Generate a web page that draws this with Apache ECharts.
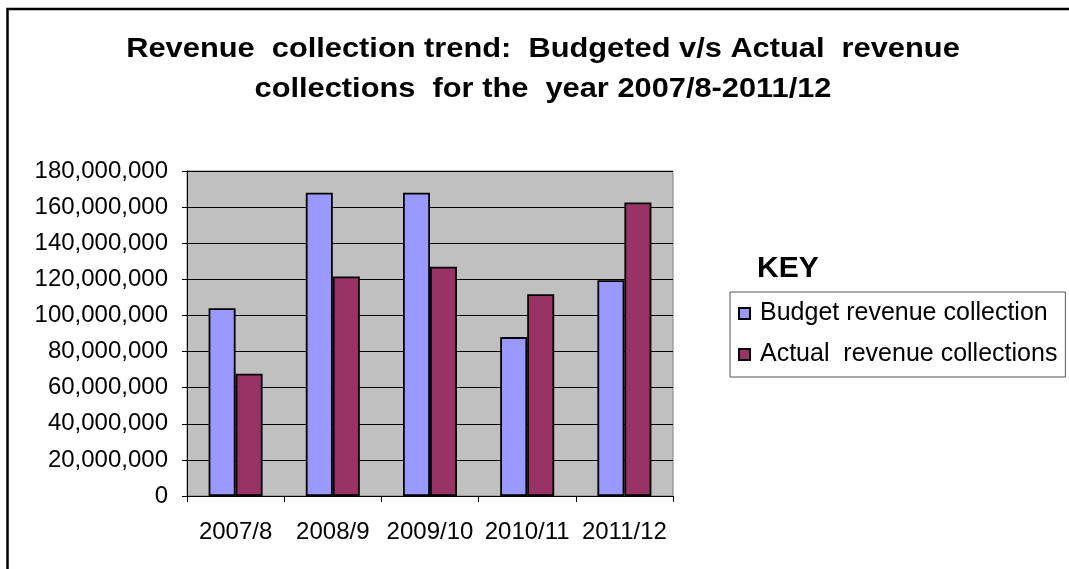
<!DOCTYPE html>
<html>
<head>
<meta charset="utf-8">
<script src="https://cdn.jsdelivr.net/npm/echarts@6/dist/echarts.min.js"></script>
<style>
  html, body { margin: 0; padding: 0; background: #fff; }
  #chart { width: 1069px; height: 569px; }
</style>
</head>
<body>
<div id="chart"></div>
<script>
// Financial years on the category axis
const years = ['2007/8', '2008/9', '2009/10', '2010/11', '2011/12'];
// Budgeted revenue per year
const budgetRevenue = [104000000, 168000000, 168000000, 88000000, 119500000];
// Revenue actually collected per year
const actualRevenue = [67700000, 121600000, 127000000, 111800000, 162600000];
// Value axis range
const yMin = 0;
const yMax = 180000000;
const yStep = 20000000;

const seriesNames = ['Budget revenue collection', 'Actual  revenue collections'];
const chartTitle = 'Revenue  collection trend:  Budgeted v/s Actual  revenue\ncollections  for the  year 2007/8-2011/12';
const FONT = '"Liberation Sans", Arial, sans-serif';

const chart = echarts.init(document.getElementById('chart'), null, { renderer: 'canvas' });

chart.setOption({
  animation: false,
  backgroundColor: '#ffffff',
  graphic: [
    {
      // outer frame of the chart area
      type: 'rect',
      shape: { x: 7.5, y: 9, width: 1100, height: 600 },
      style: { fill: 'none', stroke: '#000', lineWidth: 2.5 },
      z: 0
    },
    {
      // two-line heading, drawn a little wide
      type: 'text',
      x: 543,
      y: 29,
      scaleX: 1.1,
      style: {
        text: chartTitle,
        x: 0,
        y: 0,
        align: 'center',
        verticalAlign: 'top',
        fontFamily: FONT,
        fontWeight: 'bold',
        fontSize: 28,
        lineHeight: 40,
        fill: '#000'
      }
    },
    {
      type: 'text',
      left: 757,
      top: 254,
      style: {
        text: 'KEY',
        fontFamily: FONT,
        fontWeight: 'bold',
        fontSize: 30,
        fill: '#000'
      }
    }
  ],
  legend: {
    orient: 'vertical',
    left: 730,
    top: 292,
    padding: [9, 8, 10, 8],
    itemGap: 16,
    itemWidth: 11,
    itemHeight: 11,
    borderColor: '#555',
    borderWidth: 1,
    icon: 'rect',
    data: seriesNames,
    textStyle: {
      fontFamily: FONT,
      fontSize: 25,
      color: '#000',
      padding: [0, 0, 0, 5]
    }
  },
  grid: {
    left: 187,
    right: 396,
    top: 171,
    bottom: 73,
    show: true,
    backgroundColor: '#c0c0c0',
    borderColor: '#808080',
    borderWidth: 1
  },
  xAxis: {
    type: 'category',
    data: years,
    boundaryGap: true,
    axisLine: { show: true, lineStyle: { color: '#000', width: 1 } },
    axisTick: { show: true, length: 6, alignWithLabel: false, lineStyle: { color: '#000' } },
    axisLabel: {
      interval: 0,
      hideOverlap: false,
      fontFamily: FONT,
      fontSize: 24,
      color: '#000',
      margin: 24
    },
    splitLine: { show: false }
  },
  yAxis: {
    type: 'value',
    min: yMin,
    max: yMax,
    interval: yStep,
    axisLine: { show: true, lineStyle: { color: '#000', width: 1 } },
    axisTick: { show: true, length: 5, lineStyle: { color: '#000' } },
    axisLabel: {
      fontFamily: FONT,
      fontSize: 24,
      color: '#000',
      margin: 19,
      formatter: v => v.toLocaleString('en-US')
    },
    splitLine: { show: true, lineStyle: { color: '#000', width: 1 } }
  },
  series: [
    {
      name: seriesNames[0],
      type: 'bar',
      data: budgetRevenue,
      barWidth: 27,
      barGap: '0%',
      itemStyle: { color: '#9999ff', borderColor: '#000', borderWidth: 1.8 }
    },
    {
      name: seriesNames[1],
      type: 'bar',
      data: actualRevenue,
      barWidth: 27,
      barGap: '0%',
      itemStyle: { color: '#993366', borderColor: '#000', borderWidth: 1.8 }
    }
  ]
});
</script>
</body>
</html>
